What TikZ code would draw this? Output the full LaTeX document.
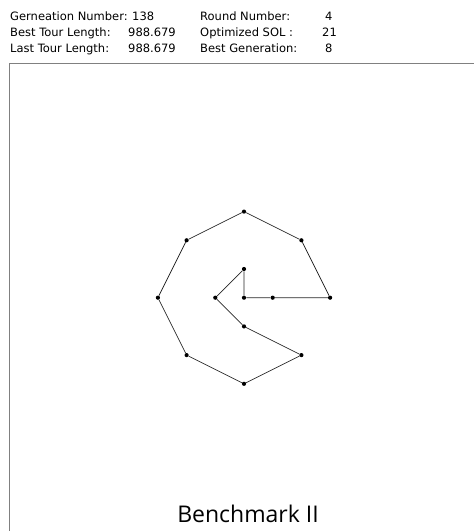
\documentclass[tikz,border=0pt]{standalone}
\usepackage{fontspec}
\setmainfont{DejaVu Sans}
\newfontfamily\titlefont{Open Sans}
\begin{document}
\begin{tikzpicture}[x=1pt, y=-1pt,
    info/.style={anchor=base west, inner sep=0pt, font=\fontsize{11.5}{13}\selectfont},
    city/.style={circle, fill=black, inner sep=0pt, minimum size=4.2pt},
    tour/.style={black!85, line width=0.7pt}]
    \useasboundingbox (0,0) rectangle (474,531);

    % header
    \node[info] (genl) at (10,20) {Gerneation Number:};
    \node[info] (genv) at (132,20) {138};
    \node[info] (bestl) at (10,36) {Best Tour Length:};
    \node[info] (bestv) at (128,36) {988.679};
    \node[info] (lastl) at (10,52) {Last Tour Length:};
    \node[info] (lastv) at (128,52) {988.679};
    \node[info] (roundl) at (200,20) {Round Number:};
    \node[info] (roundv) at (325,20) {4};
    \node[info] (optl) at (200,36) {Optimized SOL :};
    \node[info] (optv) at (322,36) {21};
    \node[info] (bgenl) at (200,52) {Best Generation:};
    \node[info] (bgenv) at (325,52) {8};

    % panel
    \draw[gray, line width=1pt] (474,63.5) -- (9.5,63.5) -- (9.5,531);

    \begin{scope}[shift={(244,297.7)}, x=28.7pt, y=28.7pt]
        \foreach \p/\name in {(0,0)/c,(1,0)/r1,(3,0)/r3,(2,2)/ne,(0,3)/n,(-2,2)/nw,
                              (-3,0)/w,(-2,-2)/sw,(0,-3)/s,(2,-2)/se,(0,-1)/is,(-1,0)/iw,(0,1)/in}
            \node[city] (\name) at \p {};
        \draw[tour] (c) -- (r1) -- (r3) -- (ne) -- (n) -- (nw) -- (w) -- (sw) -- (s)
            -- (se) -- (is) -- (iw) -- (in) -- (c);
    \end{scope}

    \node[anchor=base, inner sep=0pt, font=\titlefont\fontsize{23}{27}\selectfont] (title) at (248,522) {Benchmark II};
\end{tikzpicture}
\end{document}
